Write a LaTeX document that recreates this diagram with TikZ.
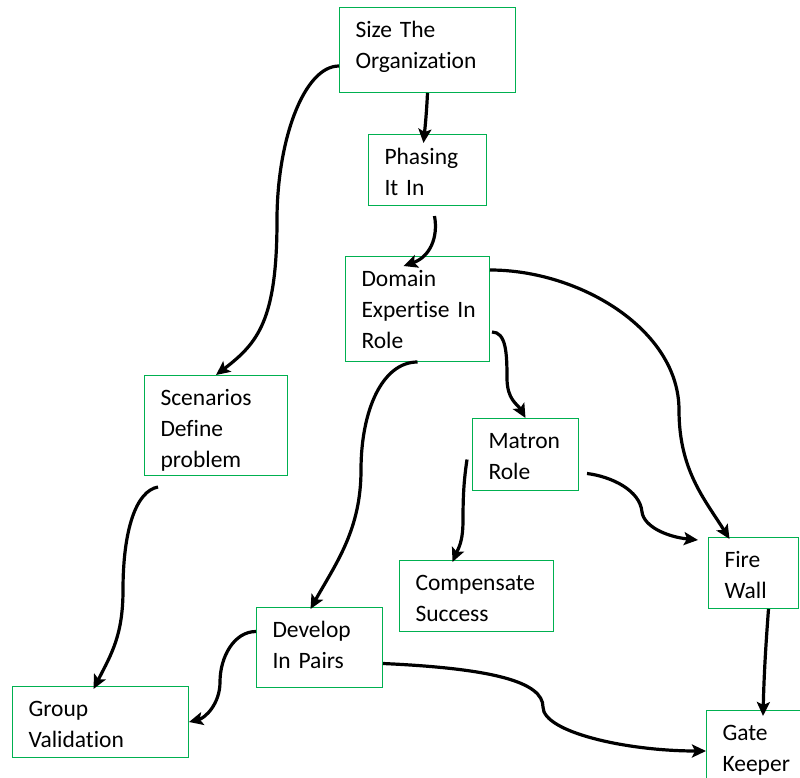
\documentclass[tikz,border=0pt]{standalone}
\usepackage{fontspec}
\setmainfont{Carlito}[WordSpace=0.85, Ligatures=NoCommon]
\usetikzlibrary{arrows.meta}
\definecolor{boxgreen}{RGB}{0,176,80}
\tikzset{
  box/.style={draw=boxgreen, line width=1pt, anchor=north west, align=left,
    inner xsep=16pt, inner ysep=6pt, text height=24pt,
    font=\fontsize{23.5}{31}\selectfont},
  link/.style={line width=3.2pt}
}
\begin{document}
\begin{tikzpicture}[x=1pt,y=-1pt,>={Stealth[length=14pt,width=13pt,inset=3pt]}]
\useasboundingbox (0,0) rectangle (800,778);
\clip (0,0) rectangle (800,778);

\node [box, text width=144pt, text depth=49pt] (size) at (339,7) {Size The\\Organization};
\node [box, text width=86pt, text depth=35pt] (phase) at (368,134) {Phasing\\It In};
\node [box, text width=112pt, text depth=69pt] (domain) at (345,256) {Domain\\Expertise~In\\Role};
\node [box, text width=111pt, text depth=64pt] (scen) at (144,375) {Scenarios\\Define\\problem};
\node [box, text width=74pt, text depth=36pt] (matron) at (472,418) {Matron\\Role};
\node [box, text width=122pt, text depth=35pt] (comp) at (399,560) {Compensate\\Success};
\node [box, text width=58pt, text depth=35pt] (fire) at (708,537) {Fire\\Wall};
\node [box, text width=94pt, text depth=44pt] (dev) at (256,607) {Develop\\In Pairs};
\node [box, text width=144pt, text depth=35pt] (group) at (12,686) {Group\\Validation};
\node [box, text width=78pt, text depth=44pt] (gate) at (706,710) {Gate\\Keeper};

\draw [link] [->] ([yshift=-16pt]size.west) .. controls +(-35,0) and +(0,-80) .. (277,220)
  .. controls +(0,100) and +(42,-32) .. (scen.north);
\draw [link] [->] (size.south) .. controls +(-1,20) and +(2,-20) .. ([xshift=-4pt,yshift=-9pt]phase.north);
\draw [link] [->] ([xshift=7pt,yshift=-10pt]phase.south) .. controls +(4,22) and +(26,-9) .. ([xshift=-14pt,yshift=-10pt]domain.north);
\draw [link] [->] ([yshift=39pt]domain.east) .. controls +(90,0) and +(0,-80) .. (679,410)
  .. controls +(0,60) and +(-25,-40) .. ([xshift=-24pt,yshift=-2pt]fire.north);
\draw [link] [->] ([xshift=2pt,yshift=-23pt]domain.east) .. controls +(14,0) and +(0,-25) .. (507,378)
  .. controls +(0,22) and +(-8,-14) .. (matron.north);
\draw [link] [->] (domain.south) .. controls +(-35,0) and +(0,-60) .. (361,470)
  .. controls +(0,60) and +(25,-45) .. ([xshift=-9pt,yshift=-2pt]dev.north);
\draw [link] [->] ([xshift=-58pt,yshift=-11pt]scen.south) .. controls +(-22,4) and +(0,-60) .. (123,590)
  .. controls +(0,45) and +(18,-35) .. ([xshift=-7pt,yshift=-3pt]group.north);
\draw [link] [->] ([yshift=16pt]dev.west) .. controls +(-22,0) and +(0,-25) .. (220,682)
  .. controls +(0,22) and +(16,-4) .. (group.east);
\draw [link] [->] ([xshift=-5pt,yshift=-5pt]matron.west) .. controls +(-3,20) and +(0,-25) .. (463,520)
  .. controls +(0,22) and +(6,-14) .. ([xshift=-24pt,yshift=-2pt]comp.north);
\draw [link] [->] ([xshift=8pt,yshift=-19pt]matron.east) .. controls +(24,3) and +(-2,-22) .. (642,512)
  .. controls +(2,15) and +(-30,-3) .. ([xshift=-10pt,yshift=-3pt]fire.north west);
\draw [link] [->] ([xshift=15pt]fire.south) .. controls +(-3,40) and +(1,-40) .. ([xshift=57pt,yshift=-6pt]gate.north west);
\draw [link] [->] ([yshift=-16pt]dev.east) .. controls +(110,5) and +(0,-25) .. (543,707)
  .. controls +(0,25) and +(-80,0) .. ([yshift=-41pt]gate.north west);

\end{tikzpicture}
\end{document}
